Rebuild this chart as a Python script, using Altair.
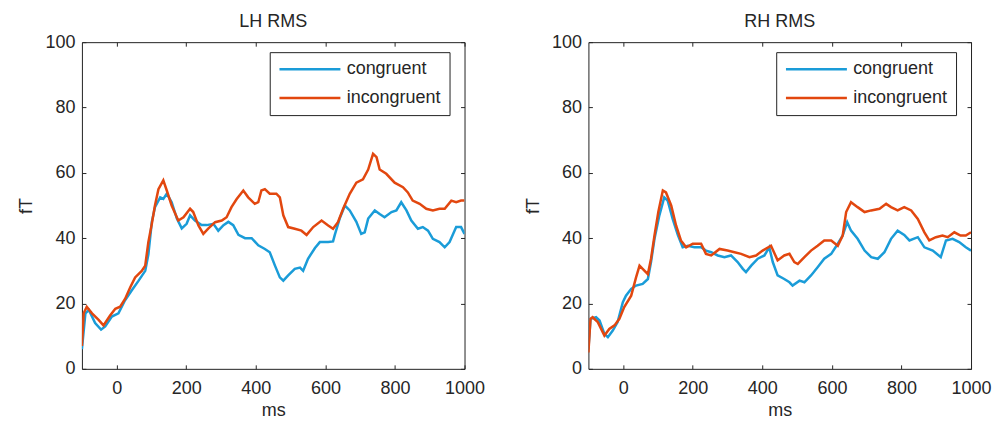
import altair as alt
import pandas as pd

# ---------------- data ----------------
LH_CONG_X = [-100, -90, -80, -62, -45, -33, -14, 5, 24, 43, 63, 82, 91, 101, 110,
             125, 134, 144, 158, 173, 187, 201, 211, 225, 244, 259, 278, 292, 307, 321,
             335, 350, 369, 388, 407, 426, 440, 455, 469, 479, 493, 512, 527, 536, 550,
             570, 584, 608, 622, 627, 641, 656, 670, 689, 703, 713, 723, 742, 756, 770,
             790, 804, 818, 833, 847, 866, 880, 895, 909, 928, 943, 957, 976, 990, 1000]
LH_CONG_Y = [6, 17, 18, 14, 12, 13, 16, 17, 21, 24, 27, 30, 35, 45, 49.5,
             52.5, 52, 53.6, 51, 46, 43, 44.4, 47, 45.4, 44, 44, 44.4, 42.3, 44, 45,
             44, 41, 40, 40, 37.8, 36.7, 35.7, 31.6, 28, 27, 28.6, 30.6, 31, 30, 33.7,
             37, 38.8, 38.8, 39, 41, 46, 50, 48.5, 45, 41.3, 41.8, 46, 48.5, 47.4, 46.4,
             48, 48.5, 51, 48.5, 45.4, 42.9, 43.4, 42.3, 39.8, 38.8, 37.2, 38.8, 43.4, 43.4, 41.3]

LH_INC_X = [-100, -95, -86, -71, -52, -38, -19, -4, 10, 24, 39, 53, 72, 82, 91,
            101, 110, 120, 134, 144, 158, 177, 192, 211, 220, 235, 249, 263, 283, 302,
            316, 330, 345, 364, 378, 397, 407, 416, 426, 440, 459, 469, 479, 493, 512,
            531, 546, 565, 589, 608, 622, 636, 651, 670, 689, 708, 723, 737, 747, 756,
            775, 799, 823, 837, 851, 871, 890, 909, 928, 943, 962, 976, 990, 1000]
LH_INC_Y = [7, 17, 19, 17, 15, 13.3, 16.3, 18.4, 19, 21.4, 25, 28, 30, 31.6, 38.8,
            44.4, 50, 55, 57.7, 54.6, 50, 45.4, 46.4, 49, 48, 43.9, 41.3, 42.9, 44.9, 45.4,
            46.4, 49.5, 52, 54.6, 52.5, 50.5, 51, 54.6, 55, 53.6, 53.6, 52.5, 47, 43.4, 42.9,
            42.3, 41, 43.4, 45.4, 43.9, 42.9, 44.9, 49, 53.6, 57, 58, 61, 65.8, 64.8, 61,
            59.7, 57, 55.6, 54, 51.5, 50.5, 49, 48.5, 49, 49, 51.5, 51, 51.5, 51.5]

RH_CONG_X = [-100, -94, -78, -68, -54, -44, -30, -16, -1, 8, 23, 37, 56, 71, 80,
             90, 104, 118, 128, 142, 157, 171, 186, 205, 224, 238, 253, 272, 291, 310,
             329, 344, 353, 368, 387, 406, 420, 430, 444, 463, 478, 487, 507, 521, 540,
             559, 578, 598, 617, 631, 644, 655, 674, 694, 713, 732, 751, 770, 789, 808,
             823, 847, 866, 890, 913, 928, 947, 966, 985, 1000]
RH_CONG_Y = [6, 15.3, 15.8, 14.8, 10.7, 9.7, 11.7, 14.3, 20.4, 22.4, 24.5, 25.5, 26, 27.5, 32.7,
             39.8, 47, 52.5, 51.5, 46, 41, 37.2, 37.7, 37.2, 37.2, 36.2, 35.7, 34.7, 34.2, 34.7,
             32.7, 30.6, 29.6, 31.6, 33.7, 34.7, 37.2, 32.7, 28.6, 27.5, 26.5, 25.5, 27, 26.5, 28.6,
             31.1, 33.7, 35.2, 38.3, 40.8, 44.9, 42.3, 39.8, 36.2, 34.2, 33.7, 35.7, 39.8, 42.3, 41,
             39.3, 40.3, 37.2, 36.2, 34.2, 39.3, 39.8, 38.8, 37.2, 36.2]

RH_INC_X = [-100, -94, -88, -73, -54, -40, -25, -11, 3, 23, 37, 47, 56, 71, 80,
            90, 101, 114, 123, 138, 152, 166, 181, 200, 224, 238, 253, 277, 300, 320,
            339, 363, 382, 401, 425, 444, 463, 478, 492, 502, 521, 540, 559, 578, 598,
            617, 631, 641, 655, 674, 694, 713, 737, 756, 770, 789, 808, 828, 847, 866,
            880, 899, 918, 933, 952, 970, 985, 1000]
RH_INC_Y = [5, 15.3, 15.8, 14.3, 10.2, 12.2, 13.3, 15.3, 18.9, 22.4, 28, 31.6, 30.6, 29, 33.7,
            40.8, 48, 54.6, 54, 50, 43.9, 39.3, 37.2, 38.3, 38.3, 35.2, 34.7, 36.7, 36.2, 35.7,
            35.2, 34.2, 34.7, 36.2, 37.7, 33.2, 34.7, 35.2, 32.7, 32.1, 34.2, 36.2, 37.7, 39.3, 39.3,
            37.7, 40.8, 48, 51, 49.5, 48, 48.5, 49, 50.5, 49.5, 48.5, 49.5, 48.5, 45.9, 41.8,
            39.3, 40.3, 40.8, 40.3, 41.8, 40.8, 40.8, 41.8]

CONDITIONS = ["congruent", "incongruent"]
X_TICKS = [0, 200, 400, 600, 800, 1000]
Y_TICKS = [0, 20, 40, 60, 80, 100]
PANEL_TITLES = ["LH RMS", "RH RMS"]

# ---------------- style ----------------
BLUE = "#1a9cd8"
RED = "#e2470f"
FONT = "Liberation Sans"
TXT = "#262626"
W, H = 383, 327


def panel(title, cx, cy, ix, iy):
    dc = pd.DataFrame({"ms": cx, "fT": cy, "cond": CONDITIONS[0]})
    di = pd.DataFrame({"ms": ix, "fT": iy, "cond": CONDITIONS[1]})
    xs = alt.Scale(domain=[-100, 1000], nice=False, zero=False)
    ys = alt.Scale(domain=[0, 100], nice=False, zero=False)
    color = alt.Color(
        "cond:N",
        scale=alt.Scale(domain=CONDITIONS, range=[BLUE, RED]),
        legend=alt.Legend(
            title=None, orient="none", legendX=188, legendY=10,
            symbolType="M-1.115,0H8.27", symbolSize=169, symbolStrokeWidth=2.5,
            labelFont=FONT, labelFontSize=18, labelColor=TXT, labelOffset=51,
            padding=8, rowPadding=11, strokeColor="#222222", fillColor="white",
        ),
    )
    common_ax = dict(offset=-4, tickSize=4, domain=False, grid=False, tickColor=TXT)
    lc = alt.Chart(dc).mark_line(strokeWidth=2.5, clip=True).encode(
        x=alt.X("ms:Q", scale=xs, axis=alt.Axis(orient="bottom", values=X_TICKS, labelPadding=11,
                                                 format="d", labelFlush=False, labelOverlap=False,
                                                 title="ms", titlePadding=4, **common_ax)),
        y=alt.Y("fT:Q", scale=ys, axis=alt.Axis(orient="left", values=Y_TICKS, labelPadding=7,
                                                 format="d", labelFlush=False, labelOverlap=False,
                                                 title="fT", titlePadding=9, **common_ax)),
        color=color,
    )
    li = alt.Chart(di).mark_line(strokeWidth=2.5, clip=True).encode(
        x=alt.X("ms:Q", scale=xs, axis=alt.Axis(orient="top", values=X_TICKS, labels=False,
                                                 title=None, **common_ax)),
        y=alt.Y("fT:Q", scale=ys, axis=alt.Axis(orient="right", values=Y_TICKS, labels=False,
                                                 title=None, **common_ax)),
        color=color,
    )
    return (
        alt.layer(lc, li)
        .resolve_axis(x="independent", y="independent")
        .properties(
            width=W, height=H,
            title=alt.TitleParams(title, font=FONT, fontSize=18, fontWeight="normal", color=TXT,
                                  anchor="middle", frame="group", baseline="alphabetic", offset=-12),
        )
    )


left = panel(PANEL_TITLES[0], LH_CONG_X, LH_CONG_Y, LH_INC_X, LH_INC_Y)
right = panel(PANEL_TITLES[1], RH_CONG_X, RH_CONG_Y, RH_INC_X, RH_INC_Y)

chart = (
    alt.hconcat(left, right, spacing=124, bounds="flush")
    .resolve_scale(color="independent")
    .properties(padding={"left": 17, "top": 12, "right": 0, "bottom": 0},
                background="white")
    .configure_view(stroke="#222222", strokeWidth=1)
    .configure_axis(labelFont=FONT, labelFontSize=18, labelColor=TXT,
                    titleFont=FONT, titleFontSize=18, titleFontWeight="normal", titleColor=TXT)
)

chart.save("out.html", embed_options={"renderer": "svg", "actions": False})
